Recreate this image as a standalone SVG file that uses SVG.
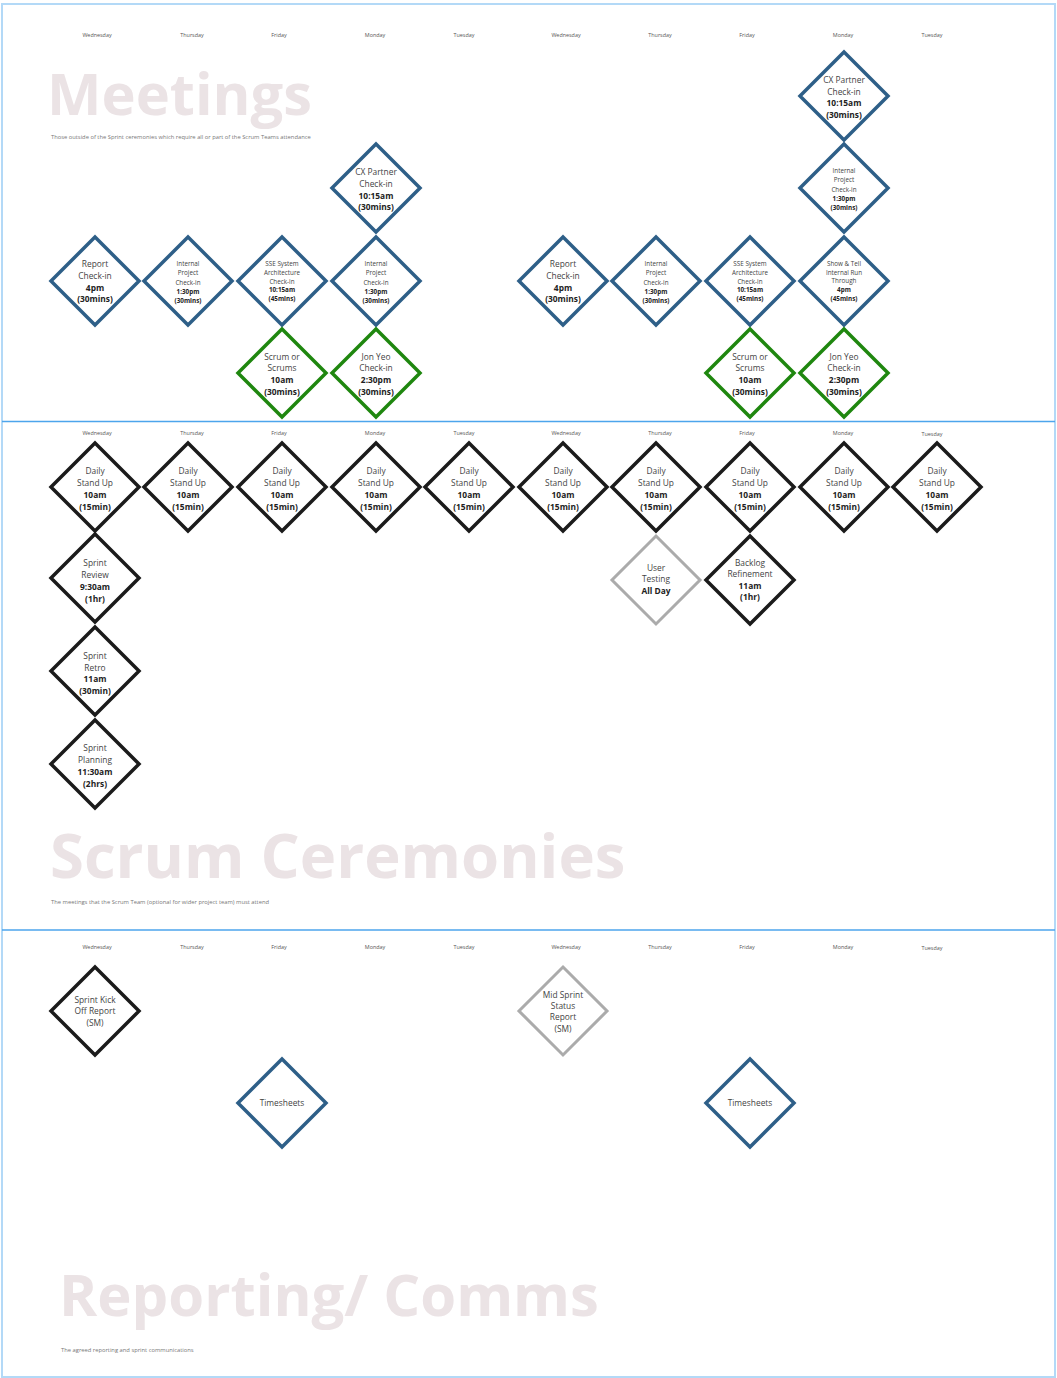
<svg xmlns="http://www.w3.org/2000/svg" xmlns:xlink="http://www.w3.org/1999/xlink" width="1057" height="1378" viewBox="0 0 1057 1378">
<style>
.frame{fill:#fff;stroke:#b3d9f7;stroke-width:2}
.div{stroke:#4da5ec;stroke-width:1.5}
.title{font-family:"Open Sans",sans-serif;font-weight:bold;fill:#ebe3e5}
.sub{font-family:"Open Sans",sans-serif;font-size:5.8px;fill:#777}
.day{font-family:"Open Sans",sans-serif;font-size:5.4px;fill:#555;text-anchor:middle}
.blue{fill:#fff;stroke:#2e5f88;stroke-width:3.5}
.green{fill:#fff;stroke:#1f870f;stroke-width:3.5}
.black{fill:#fff;stroke:#1b1b1b;stroke-width:3.5}
.grey{fill:#fff;stroke:#ababab;stroke-width:3}
.t{font-family:"Open Sans",sans-serif;font-size:8.4px;fill:#444;text-anchor:middle}
.s{font-family:"Open Sans",sans-serif;font-size:6.3px;fill:#444;text-anchor:middle}
.b{font-weight:bold;fill:#222}
</style>
<defs>
<polygon id="dia" points="0,-44 44,0 0,44 -44,0"/>
</defs>
<rect class="frame" x="2" y="4" width="1053" height="1373"/>
<line class="div" x1="2" y1="421.5" x2="1055" y2="421.5"/>
<line class="div" x1="2" y1="930" x2="1055" y2="930"/>

<g id="labels">
<text class="title" x="47" y="115" font-size="57.8">Meetings</text>
<text class="sub" x="51" y="139">Those outside of the Sprint ceremonies which require all or part of the Scrum Teams attendance</text>
<text class="title" x="50" y="878" font-size="61.6">Scrum Ceremonies</text>
<text class="sub" x="51" y="904">The meetings that the Scrum Team (optional for wider project team) must attend</text>
<text class="title" x="59" y="1316" font-size="58">Reporting/ Comms</text>
<text class="sub" x="61" y="1352">The agreed reporting and sprint communications</text>
</g>

<g id="days-meetings">
<text class="day" x="97" y="37">Wednesday</text><text class="day" x="192" y="37">Thursday</text><text class="day" x="279" y="37">Friday</text><text class="day" x="375" y="37">Monday</text><text class="day" x="464" y="37">Tuesday</text><text class="day" x="566" y="37">Wednesday</text><text class="day" x="660" y="37">Thursday</text><text class="day" x="747" y="37">Friday</text><text class="day" x="843" y="37">Monday</text><text class="day" x="932" y="37">Tuesday</text>
</g>
<g id="days-scrum">
<text class="day" x="97" y="435">Wednesday</text><text class="day" x="192" y="435">Thursday</text><text class="day" x="279" y="435">Friday</text><text class="day" x="375" y="435">Monday</text><text class="day" x="464" y="435">Tuesday</text><text class="day" x="566" y="435">Wednesday</text><text class="day" x="660" y="435">Thursday</text><text class="day" x="747" y="435">Friday</text><text class="day" x="843" y="435">Monday</text><text class="day" x="932" y="436">Tuesday</text>
</g>
<g id="days-reporting">
<text class="day" x="97" y="949">Wednesday</text><text class="day" x="192" y="949">Thursday</text><text class="day" x="279" y="949">Friday</text><text class="day" x="375" y="949">Monday</text><text class="day" x="464" y="949">Tuesday</text><text class="day" x="566" y="949">Wednesday</text><text class="day" x="660" y="949">Thursday</text><text class="day" x="747" y="949">Friday</text><text class="day" x="843" y="949">Monday</text><text class="day" x="932" y="950">Tuesday</text>
</g>

<g id="connectors"></g>

<!-- Meetings -->
<g id="m-report-1"><use href="#dia" class="blue" transform="translate(95,281)"/>
<text class="t" x="95" y="267">Report</text><text class="t" x="95" y="279">Check-in</text><text class="t b" x="95" y="291">4pm</text><text class="t b" x="95" y="302">(30mins)</text></g>
<g id="m-internal-1"><use href="#dia" class="blue" transform="translate(188,281)"/>
<text class="s" x="188" y="266">Internal</text><text class="s" x="188" y="275">Project</text><text class="s" x="188" y="284.5">Check-in</text><text class="s b" x="188" y="294">1:30pm</text><text class="s b" x="188" y="303">(30mins)</text></g>
<g id="m-sse-1"><use href="#dia" class="blue" transform="translate(282,281)"/>
<text class="s" x="282" y="266">SSE System</text><text class="s" x="282" y="275">Architecture</text><text class="s" x="282" y="283.5">Check-in</text><text class="s b" x="282" y="292">10:15am</text><text class="s b" x="282" y="300.5">(45mins)</text></g>
<g id="m-internal-2"><use href="#dia" class="blue" transform="translate(376,281)"/>
<text class="s" x="376" y="266">Internal</text><text class="s" x="376" y="275">Project</text><text class="s" x="376" y="284.5">Check-in</text><text class="s b" x="376" y="294">1:30pm</text><text class="s b" x="376" y="303">(30mins)</text></g>
<g id="m-cx-1"><use href="#dia" class="blue" transform="translate(376,188)"/>
<text class="t" x="376" y="175">CX Partner</text><text class="t" x="376" y="187">Check-in</text><text class="t b" x="376" y="199">10:15am</text><text class="t b" x="376" y="210">(30mins)</text></g>
<g id="m-scrum-1"><use href="#dia" class="green" transform="translate(282,373)"/>
<text class="t" x="282" y="360">Scrum or</text><text class="t" x="282" y="371">Scrums</text><text class="t b" x="282" y="383">10am</text><text class="t b" x="282" y="395">(30mins)</text></g>
<g id="m-jon-1"><use href="#dia" class="green" transform="translate(376,373)"/>
<text class="t" x="376" y="360">Jon Yeo</text><text class="t" x="376" y="371">Check-in</text><text class="t b" x="376" y="383">2:30pm</text><text class="t b" x="376" y="395">(30mins)</text></g>

<g id="m-report-2"><use href="#dia" class="blue" transform="translate(563,281)"/>
<text class="t" x="563" y="267">Report</text><text class="t" x="563" y="279">Check-in</text><text class="t b" x="563" y="291">4pm</text><text class="t b" x="563" y="302">(30mins)</text></g>
<g id="m-internal-3"><use href="#dia" class="blue" transform="translate(656,281)"/>
<text class="s" x="656" y="266">Internal</text><text class="s" x="656" y="275">Project</text><text class="s" x="656" y="284.5">Check-in</text><text class="s b" x="656" y="294">1:30pm</text><text class="s b" x="656" y="303">(30mins)</text></g>
<g id="m-sse-2"><use href="#dia" class="blue" transform="translate(750,281)"/>
<text class="s" x="750" y="266">SSE System</text><text class="s" x="750" y="275">Architecture</text><text class="s" x="750" y="283.5">Check-in</text><text class="s b" x="750" y="292">10:15am</text><text class="s b" x="750" y="300.5">(45mins)</text></g>
<g id="m-show"><use href="#dia" class="blue" transform="translate(844,281)"/>
<text class="s" x="844" y="266">Show &amp; Tell</text><text class="s" x="844" y="275">Internal Run</text><text class="s" x="844" y="283">Through</text><text class="s b" x="844" y="292">4pm</text><text class="s b" x="844" y="300.5">(45mins)</text></g>
<g id="m-internal-4"><use href="#dia" class="blue" transform="translate(844,188)"/>
<text class="s" x="844" y="173">Internal</text><text class="s" x="844" y="182">Project</text><text class="s" x="844" y="191.5">Check-in</text><text class="s b" x="844" y="201">1:30pm</text><text class="s b" x="844" y="210">(30mins)</text></g>
<g id="m-cx-2"><use href="#dia" class="blue" transform="translate(844,96)"/>
<text class="t" x="844" y="83">CX Partner</text><text class="t" x="844" y="95">Check-in</text><text class="t b" x="844" y="106">10:15am</text><text class="t b" x="844" y="118">(30mins)</text></g>
<g id="m-scrum-2"><use href="#dia" class="green" transform="translate(750,373)"/>
<text class="t" x="750" y="360">Scrum or</text><text class="t" x="750" y="371">Scrums</text><text class="t b" x="750" y="383">10am</text><text class="t b" x="750" y="395">(30mins)</text></g>
<g id="m-jon-2"><use href="#dia" class="green" transform="translate(844,373)"/>
<text class="t" x="844" y="360">Jon Yeo</text><text class="t" x="844" y="371">Check-in</text><text class="t b" x="844" y="383">2:30pm</text><text class="t b" x="844" y="395">(30mins)</text></g>

<!-- Scrum ceremonies: daily stand ups -->
<g id="su-1"><use href="#dia" class="black" transform="translate(95,487)"/><text class="t" x="95" y="474">Daily</text><text class="t" x="95" y="486">Stand Up</text><text class="t b" x="95" y="498">10am</text><text class="t b" x="95" y="510">(15min)</text></g>
<g id="su-2"><use href="#dia" class="black" transform="translate(188,487)"/><text class="t" x="188" y="474">Daily</text><text class="t" x="188" y="486">Stand Up</text><text class="t b" x="188" y="498">10am</text><text class="t b" x="188" y="510">(15min)</text></g>
<g id="su-3"><use href="#dia" class="black" transform="translate(282,487)"/><text class="t" x="282" y="474">Daily</text><text class="t" x="282" y="486">Stand Up</text><text class="t b" x="282" y="498">10am</text><text class="t b" x="282" y="510">(15min)</text></g>
<g id="su-4"><use href="#dia" class="black" transform="translate(376,487)"/><text class="t" x="376" y="474">Daily</text><text class="t" x="376" y="486">Stand Up</text><text class="t b" x="376" y="498">10am</text><text class="t b" x="376" y="510">(15min)</text></g>
<g id="su-5"><use href="#dia" class="black" transform="translate(469,487)"/><text class="t" x="469" y="474">Daily</text><text class="t" x="469" y="486">Stand Up</text><text class="t b" x="469" y="498">10am</text><text class="t b" x="469" y="510">(15min)</text></g>
<g id="su-6"><use href="#dia" class="black" transform="translate(563,487)"/><text class="t" x="563" y="474">Daily</text><text class="t" x="563" y="486">Stand Up</text><text class="t b" x="563" y="498">10am</text><text class="t b" x="563" y="510">(15min)</text></g>
<g id="su-7"><use href="#dia" class="black" transform="translate(656,487)"/><text class="t" x="656" y="474">Daily</text><text class="t" x="656" y="486">Stand Up</text><text class="t b" x="656" y="498">10am</text><text class="t b" x="656" y="510">(15min)</text></g>
<g id="su-8"><use href="#dia" class="black" transform="translate(750,487)"/><text class="t" x="750" y="474">Daily</text><text class="t" x="750" y="486">Stand Up</text><text class="t b" x="750" y="498">10am</text><text class="t b" x="750" y="510">(15min)</text></g>
<g id="su-9"><use href="#dia" class="black" transform="translate(844,487)"/><text class="t" x="844" y="474">Daily</text><text class="t" x="844" y="486">Stand Up</text><text class="t b" x="844" y="498">10am</text><text class="t b" x="844" y="510">(15min)</text></g>
<g id="su-10"><use href="#dia" class="black" transform="translate(937,487)"/><text class="t" x="937" y="474">Daily</text><text class="t" x="937" y="486">Stand Up</text><text class="t b" x="937" y="498">10am</text><text class="t b" x="937" y="510">(15min)</text></g>

<g id="sprint-review"><use href="#dia" class="black" transform="translate(95,578)"/><text class="t" x="95" y="566">Sprint</text><text class="t" x="95" y="578">Review</text><text class="t b" x="95" y="590">9:30am</text><text class="t b" x="95" y="602">(1hr)</text></g>
<g id="sprint-retro"><use href="#dia" class="black" transform="translate(95,671)"/><text class="t" x="95" y="659">Sprint</text><text class="t" x="95" y="671">Retro</text><text class="t b" x="95" y="682">11am</text><text class="t b" x="95" y="694">(30min)</text></g>
<g id="sprint-planning"><use href="#dia" class="black" transform="translate(95,764)"/><text class="t" x="95" y="751">Sprint</text><text class="t" x="95" y="763">Planning</text><text class="t b" x="95" y="775">11:30am</text><text class="t b" x="95" y="787">(2hrs)</text></g>
<g id="user-testing"><use href="#dia" class="grey" transform="translate(656,580)"/><text class="t" x="656" y="571">User</text><text class="t" x="656" y="582">Testing</text><text class="t b" x="656" y="594">All Day</text></g>
<g id="backlog"><use href="#dia" class="black" transform="translate(750,580)"/><text class="t" x="750" y="566">Backlog</text><text class="t" x="750" y="577">Refinement</text><text class="t b" x="750" y="589">11am</text><text class="t b" x="750" y="600">(1hr)</text></g>

<!-- Reporting -->
<g id="kickoff"><use href="#dia" class="black" transform="translate(95,1011)"/><text class="t" x="95" y="1003">Sprint Kick</text><text class="t" x="95" y="1014">Off Report</text><text class="t" x="95" y="1026">(SM)</text></g>
<g id="midsprint"><use href="#dia" class="grey" transform="translate(563,1011)"/><text class="t" x="563" y="998">Mid Sprint</text><text class="t" x="563" y="1009">Status</text><text class="t" x="563" y="1020">Report</text><text class="t" x="563" y="1032">(SM)</text></g>
<g id="timesheets-1"><use href="#dia" class="blue" transform="translate(282,1103)"/><text class="t" x="282" y="1106">Timesheets</text></g>
<g id="timesheets-2"><use href="#dia" class="blue" transform="translate(750,1103)"/><text class="t" x="750" y="1106">Timesheets</text></g>
</svg>
